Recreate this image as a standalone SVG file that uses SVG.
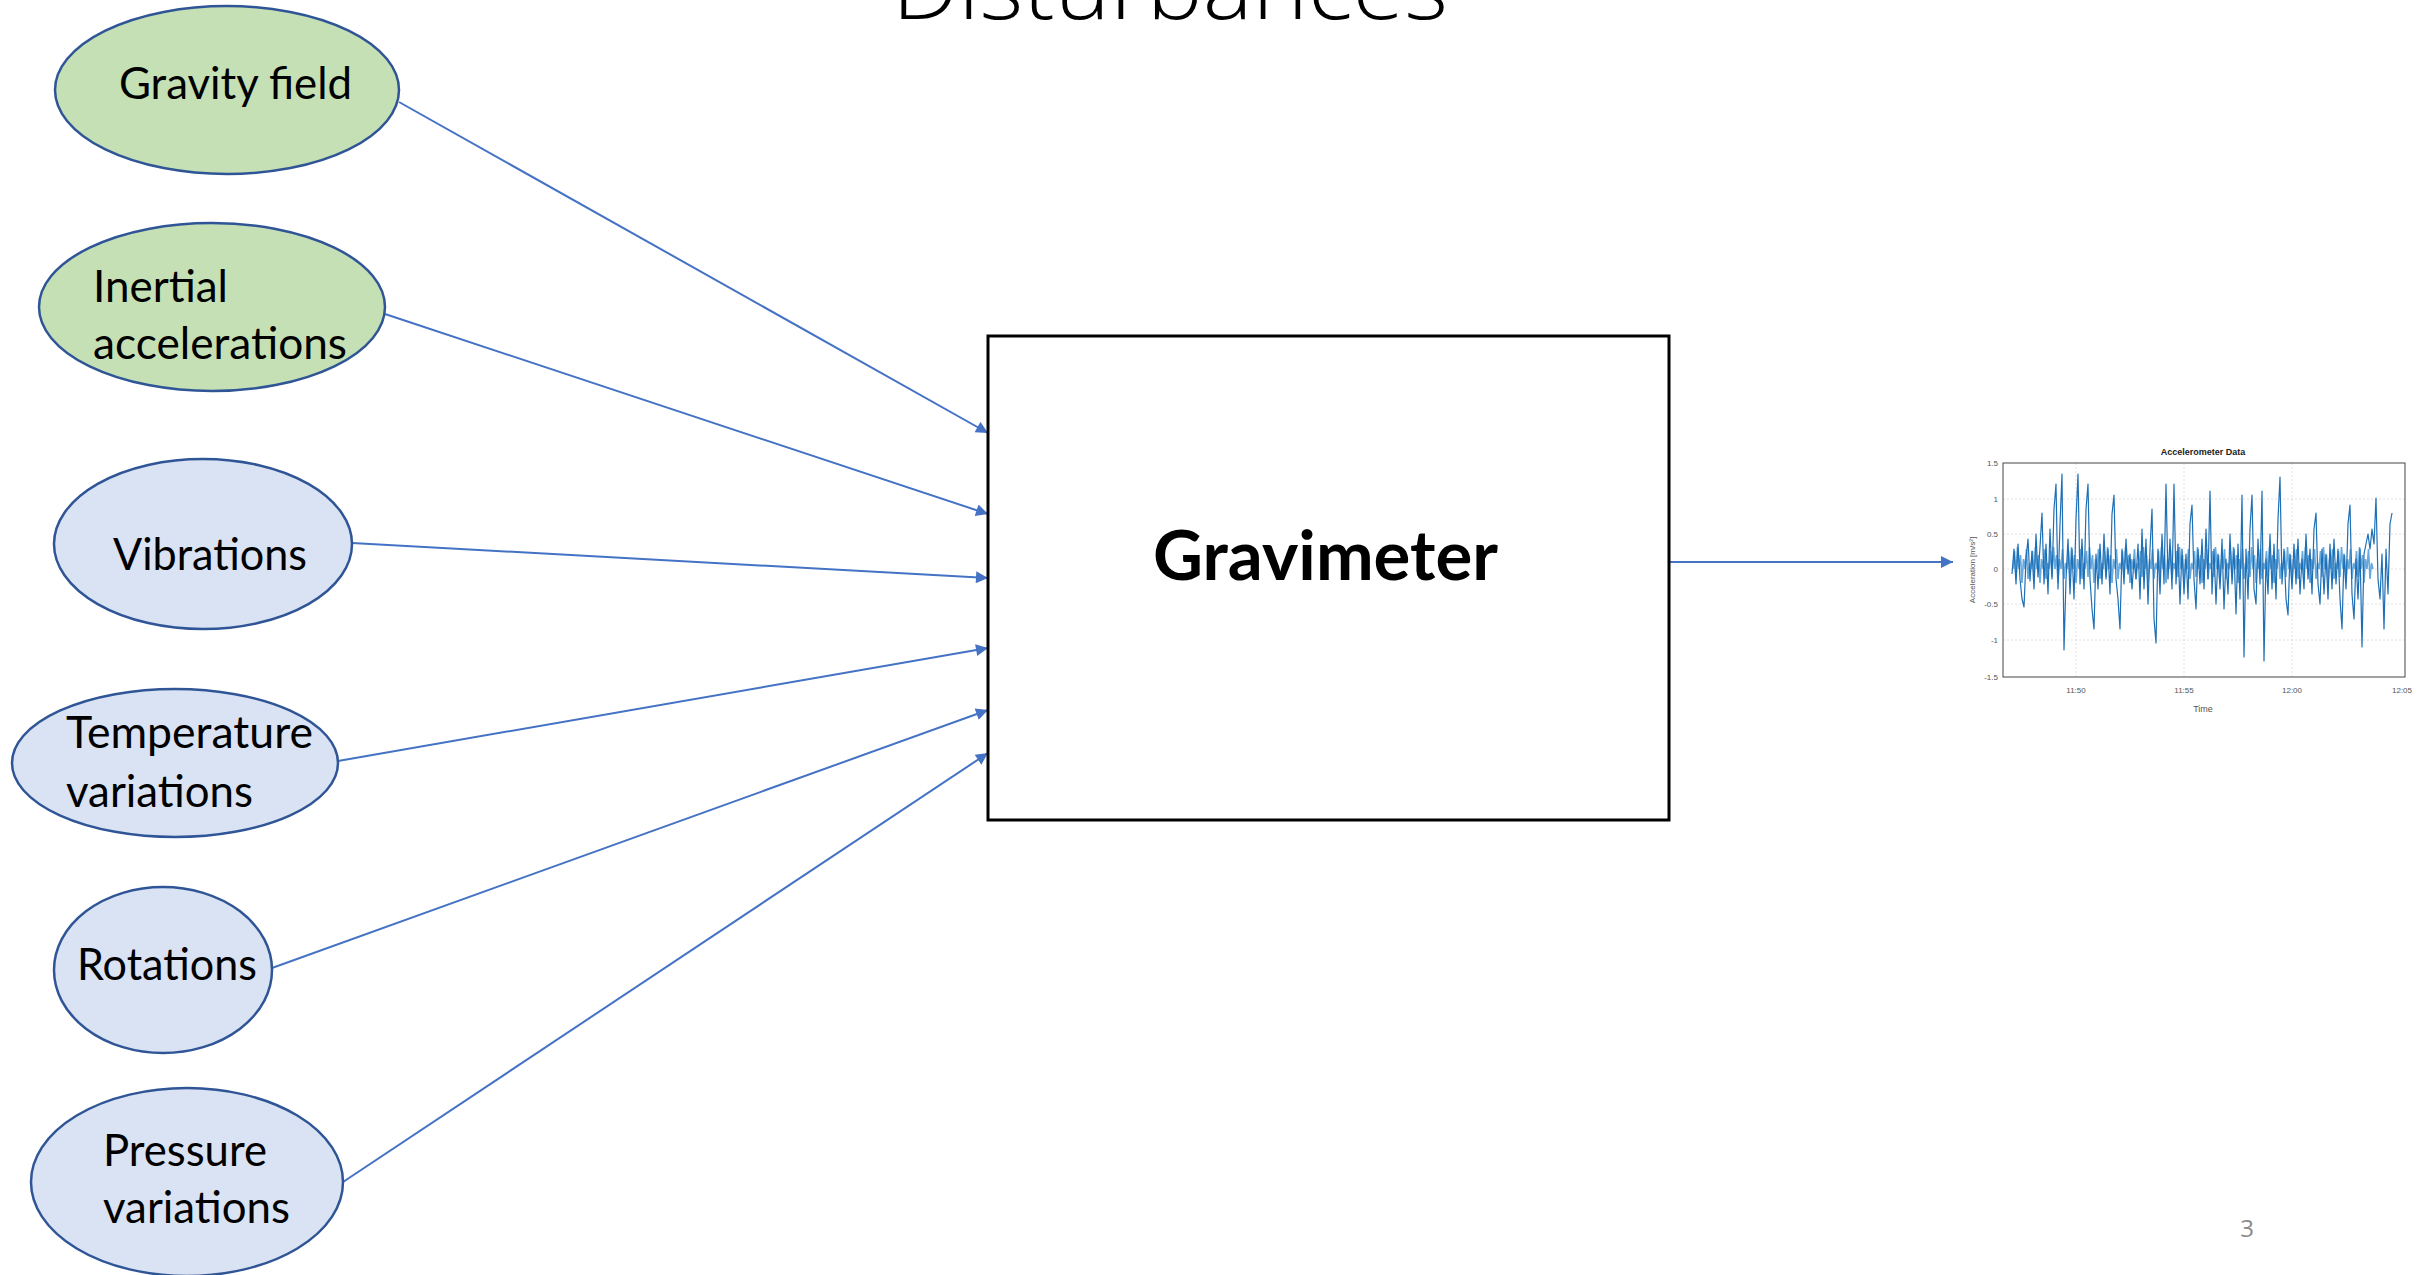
<svg xmlns="http://www.w3.org/2000/svg" width="2417" height="1275" viewBox="0 0 2417 1275">
<style>
.node ellipse{stroke:#2F5597;stroke-width:2.5}
.green{fill:#C5E0B4}
.blue{fill:#DAE3F3}
.lbl{font-family:Lato,"Open Sans","Liberation Sans",sans-serif;font-size:44px;fill:#000}
.conn line{stroke:#4472C4;stroke-width:2}
.tick{font-family:"Liberation Sans",Arial,sans-serif;font-size:8px;fill:#555}
.grid{stroke:#d8d8d8;stroke-width:0.8;stroke-dasharray:2 2}
</style>
<defs>
<marker id="ah2" viewBox="0 0 10 10" refX="10" refY="5" markerWidth="14" markerHeight="12" markerUnits="userSpaceOnUse" orient="auto">
<path d="M0,0 L10,5 L0,10 z" fill="#4472C4"/>
</marker>
</defs>
<rect width="2417" height="1275" fill="#fff"/>

<text x="892" y="19" font-family="'Open Sans',Lato,sans-serif" font-weight="300" font-size="86" textLength="556" lengthAdjust="spacingAndGlyphs" fill="#000">Disturbances</text>

<g id="connectors" class="conn">
<line x1="399" y1="102" x2="988" y2="433" marker-end="url(#ah2)"/>
<line x1="385" y1="314" x2="988" y2="514" marker-end="url(#ah2)"/>
<line x1="352" y1="543" x2="988" y2="578" marker-end="url(#ah2)"/>
<line x1="338" y1="761" x2="988" y2="648" marker-end="url(#ah2)"/>
<line x1="272" y1="968" x2="988" y2="710" marker-end="url(#ah2)"/>
<line x1="343" y1="1182" x2="988" y2="753" marker-end="url(#ah2)"/>
<line x1="1669" y1="562" x2="1953" y2="562" marker-end="url(#ah2)"/>
</g>

<g id="node-gravity" class="node">
<ellipse class="green" cx="227" cy="90" rx="172" ry="84"/>
<text class="lbl" x="119" y="99" textLength="233" lengthAdjust="spacingAndGlyphs">Gravity field</text>
</g>
<g id="node-inertial" class="node">
<ellipse class="green" cx="212" cy="307" rx="173" ry="84"/>
<text class="lbl" x="93" y="302" textLength="135" lengthAdjust="spacingAndGlyphs">Inertial</text>
<text class="lbl" x="93" y="359" textLength="254" lengthAdjust="spacingAndGlyphs">accelerations</text>
</g>
<g id="node-vibrations" class="node">
<ellipse class="blue" cx="203" cy="544" rx="149" ry="85"/>
<text class="lbl" x="113" y="570" textLength="194" lengthAdjust="spacingAndGlyphs">Vibrations</text>
</g>
<g id="node-temperature" class="node">
<ellipse class="blue" cx="175" cy="763" rx="163" ry="74"/>
<text class="lbl" x="66" y="748" textLength="247" lengthAdjust="spacingAndGlyphs">Temperature</text>
<text class="lbl" x="66" y="807" textLength="187" lengthAdjust="spacingAndGlyphs">variations</text>
</g>
<g id="node-rotations" class="node">
<ellipse class="blue" cx="163" cy="970" rx="109" ry="83"/>
<text class="lbl" x="77" y="980" textLength="180" lengthAdjust="spacingAndGlyphs">Rotations</text>
</g>
<g id="node-pressure" class="node">
<ellipse class="blue" cx="187" cy="1182" rx="156" ry="94"/>
<text class="lbl" x="103" y="1166" textLength="164" lengthAdjust="spacingAndGlyphs">Pressure</text>
<text class="lbl" x="103" y="1223" textLength="187" lengthAdjust="spacingAndGlyphs">variations</text>
</g>

<g id="node-gravimeter">
<rect x="988" y="336" width="681" height="484" fill="#fff" stroke="#000" stroke-width="3"/>
<text x="1153" y="580" font-family="Lato,'Open Sans',sans-serif" font-weight="700" font-size="68" textLength="345" lengthAdjust="spacingAndGlyphs" fill="#000">Gravimeter</text>
</g>

<g id="chart">
<text x="2203" y="455" text-anchor="middle" font-family="'Liberation Sans',Arial,sans-serif" font-weight="700" font-size="9" fill="#222">Accelerometer Data</text>
<g>
<line class="grid" x1="2003" y1="499" x2="2405" y2="499"/>
<line class="grid" x1="2003" y1="534" x2="2405" y2="534"/>
<line class="grid" x1="2003" y1="569" x2="2405" y2="569"/>
<line class="grid" x1="2003" y1="604" x2="2405" y2="604"/>
<line class="grid" x1="2003" y1="640" x2="2405" y2="640"/>
<line class="grid" x1="2076" y1="463" x2="2076" y2="677"/>
<line class="grid" x1="2184" y1="463" x2="2184" y2="677"/>
<line class="grid" x1="2292" y1="463" x2="2292" y2="677"/>
</g>
<path fill="none" stroke="#4a9ad8" stroke-width="1.6" opacity="0.85" d="M2013,569 l1.5,-18 l1.5,26 l1.5,-30 l1.5,22 l1.5,-14 l1.5,28 l1.5,-24 l1.5,10 l1.5,-20 l1.5,30 l1.5,-16 l1.5,6 l1.5,-18 l1.5,26 l1.5,-30 l1.5,22 l1.5,-14 l1.5,28 l1.5,-24 l1.5,10 l1.5,-20 l1.5,30 l1.5,-16 l1.5,6 l1.5,-18 l1.5,26 l1.5,-30 l1.5,22 l1.5,-14 l1.5,28 l1.5,-24 l1.5,10 l1.5,-20 l1.5,30 l1.5,-16 l1.5,6 l1.5,-18 l1.5,26 l1.5,-30 l1.5,22 l1.5,-14 l1.5,28 l1.5,-24 l1.5,10 l1.5,-20 l1.5,30 l1.5,-16 l1.5,6 l1.5,-18 l1.5,26 l1.5,-30 l1.5,22 l1.5,-14 l1.5,28 l1.5,-24 l1.5,10 l1.5,-20 l1.5,30 l1.5,-16 l1.5,6 l1.5,-18 l1.5,26 l1.5,-30 l1.5,22 l1.5,-14 l1.5,28 l1.5,-24 l1.5,10 l1.5,-20 l1.5,30 l1.5,-16 l1.5,6 l1.5,-18 l1.5,26 l1.5,-30 l1.5,22 l1.5,-14 l1.5,28 l1.5,-24 l1.5,10 l1.5,-20 l1.5,30 l1.5,-16 l1.5,6 l1.5,-18 l1.5,26 l1.5,-30 l1.5,22 l1.5,-14 l1.5,28 l1.5,-24 l1.5,10 l1.5,-20 l1.5,30 l1.5,-16 l1.5,6 l1.5,-18 l1.5,26 l1.5,-30 l1.5,22 l1.5,-14 l1.5,28 l1.5,-24 l1.5,10 l1.5,-20 l1.5,30 l1.5,-16 l1.5,6 l1.5,-18 l1.5,26 l1.5,-30 l1.5,22 l1.5,-14 l1.5,28 l1.5,-24 l1.5,10 l1.5,-20 l1.5,30 l1.5,-16 l1.5,6 l1.5,-18 l1.5,26 l1.5,-30 l1.5,22 l1.5,-14 l1.5,28 l1.5,-24 l1.5,10 l1.5,-20 l1.5,30 l1.5,-16 l1.5,6 l1.5,-18 l1.5,26 l1.5,-30 l1.5,22 l1.5,-14 l1.5,28 l1.5,-24 l1.5,10 l1.5,-20 l1.5,30 l1.5,-16 l1.5,6 l1.5,-18 l1.5,26 l1.5,-30 l1.5,22 l1.5,-14 l1.5,28 l1.5,-24 l1.5,10 l1.5,-20 l1.5,30 l1.5,-16 l1.5,6 l1.5,-18 l1.5,26 l1.5,-30 l1.5,22 l1.5,-14 l1.5,28 l1.5,-24 l1.5,10 l1.5,-20 l1.5,30 l1.5,-16 l1.5,6 l1.5,-18 l1.5,26 l1.5,-30 l1.5,22 l1.5,-14 l1.5,28 l1.5,-24 l1.5,10 l1.5,-20 l1.5,30 l1.5,-16 l1.5,6 l1.5,-18 l1.5,26 l1.5,-30 l1.5,22 l1.5,-14 l1.5,28 l1.5,-24 l1.5,10 l1.5,-20 l1.5,30 l1.5,-16 l1.5,6 l1.5,-18 l1.5,26 l1.5,-30 l1.5,22 l1.5,-14 l1.5,28 l1.5,-24 l1.5,10 l1.5,-20 l1.5,30 l1.5,-16 l1.5,6 l1.5,-18 l1.5,26 l1.5,-30 l1.5,22 l1.5,-14 l1.5,28 l1.5,-24 l1.5,10 l1.5,-20 l1.5,30 l1.5,-16 l1.5,6 l1.5,-18 l1.5,26 l1.5,-30 l1.5,22 l1.5,-14 l1.5,28 l1.5,-24 l1.5,10 l1.5,-20 l1.5,30 l1.5,-16 l1.5,6 l1.5,-18 l1.5,26 l1.5,-30 l1.5,22 l1.5,-14 l1.5,28 l1.5,-24 l1.5,10 l1.5,-20 l1.5,30 l1.5,-16 l1.5,6"/>
<polyline fill="none" stroke="#1f6fb5" stroke-width="1.2" stroke-linejoin="round" points="2012,574 2014,549 2016,584 2018,544 2020,579 2022,599 2024,607 2026,559 2028,539 2030,581 2032,551 2034,589 2036,534 2038,577 2040,547 2042,513 2044,584 2046,544 2048,594 2050,529 2052,579 2054,509 2056,484 2058,589 2060,524 2062,474 2064,650 2066,579 2068,539 2070,594 2072,549 2074,599 2076,519 2078,474 2080,584 2082,539 2084,589 2086,509 2088,484 2090,579 2092,609 2094,629 2096,554 2098,589 2100,544 2102,584 2104,534 2106,579 2108,549 2110,594 2112,514 2114,495 2116,579 2118,599 2120,629 2122,549 2124,584 2126,539 2128,574 2130,554 2132,589 2134,559 2136,579 2138,544 2140,599 2142,529 2144,589 2146,539 2148,604 2150,549 2152,509 2154,619 2156,643 2158,549 2160,594 2162,534 2164,584 2166,484 2168,579 2170,539 2172,589 2174,484 2176,584 2178,544 2180,604 2182,549 2184,594 2186,554 2188,599 2190,524 2192,505 2194,579 2196,609 2198,549 2200,584 2202,539 2204,589 2206,529 2208,579 2210,491 2212,594 2214,549 2216,604 2218,554 2220,589 2222,539 2224,609 2226,559 2228,594 2230,534 2232,584 2234,549 2236,614 2238,544 2240,599 2242,495 2244,657 2246,549 2248,599 2250,529 2252,495 2254,589 2256,604 2258,539 2260,584 2262,491 2264,661 2266,559 2268,594 2270,534 2272,589 2274,544 2276,599 2278,519 2280,477 2282,584 2284,549 2286,599 2288,615 2290,554 2292,589 2294,544 2296,584 2298,539 2300,594 2302,559 2304,589 2306,534 2308,579 2310,549 2312,594 2314,529 2316,513 2318,584 2320,604 2322,549 2324,594 2326,554 2328,599 2330,544 2332,589 2334,539 2336,584 2338,549 2340,599 2342,629 2344,554 2346,589 2348,524 2350,505 2352,594 2354,619 2356,559 2358,599 2360,549 2362,647 2364,554 2366,544 2368,534 2370,549 2372,529 2374,544 2376,498 2378,579 2380,599 2382,554 2384,629 2386,549 2388,594 2390,524 2392,513"/>
<rect x="2003" y="463" width="402" height="214" fill="none" stroke="#444" stroke-width="1"/>
<g class="tick" text-anchor="end">
<text x="1998" y="466">1.5</text>
<text x="1998" y="502">1</text>
<text x="1998" y="537">0.5</text>
<text x="1998" y="572">0</text>
<text x="1998" y="607">-0.5</text>
<text x="1998" y="643">-1</text>
<text x="1998" y="680">-1.5</text>
</g>
<g class="tick" text-anchor="middle">
<text x="2076" y="693">11:50</text>
<text x="2184" y="693">11:55</text>
<text x="2292" y="693">12:00</text>
<text x="2402" y="693">12:05</text>
<text x="2203" y="712" font-size="9">Time</text>
</g>
<text class="tick" x="0" y="0" text-anchor="middle" font-size="9" transform="translate(1975,570) rotate(-90)">Acceleration [m/s²]</text>
</g>

<text x="2247" y="1237" text-anchor="middle" font-family="'Open Sans',Lato,sans-serif" font-size="24" fill="#8a8a8a">3</text>
</svg>
